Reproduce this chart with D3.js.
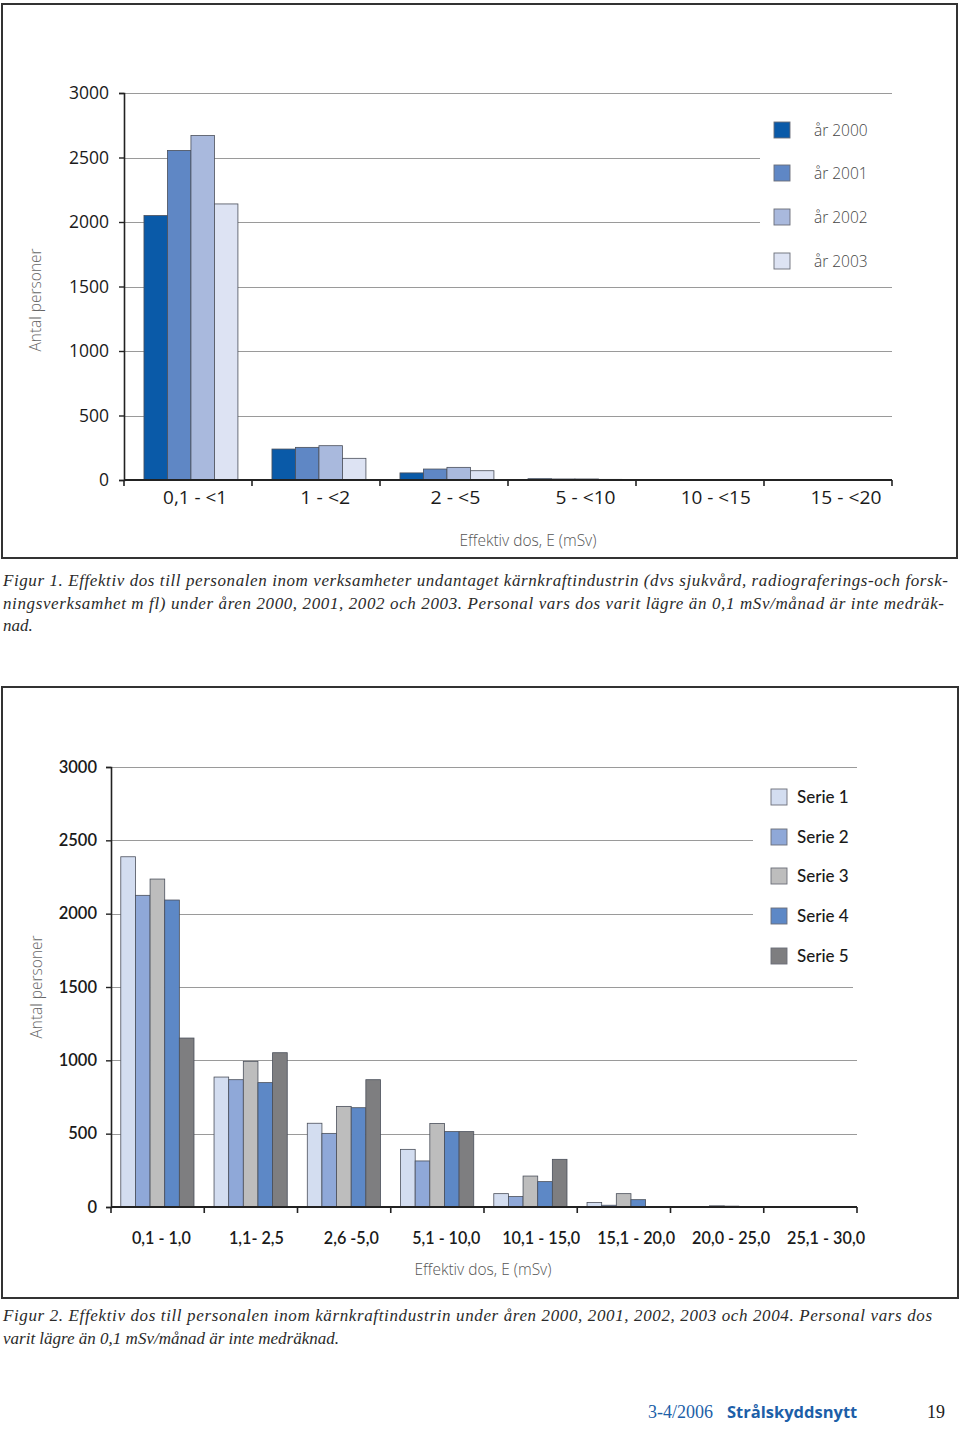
<!DOCTYPE html>
<html><head><meta charset="utf-8">
<script src="https://cdn.jsdelivr.net/npm/d3@7"></script>
<style>
body{margin:0;background:#fff;}
svg{display:block;}
</style></head>
<body>
<script>
// ---------- Data: Figure 1 ----------
const cats1 = ["0,1 - <1", "1 - <2", "2 - <5", "5 - <10", "10 - <15", "15 - <20"];
const series1 = ["år 2000", "år 2001", "år 2002", "år 2003"];
const values2000 = [2050, 240, 55, 10, 0, 0];
const values2001 = [2555, 253, 85, 8, 0, 0];
const values2002 = [2670, 266, 98, 8, 0, 0];
const values2003 = [2140, 168, 72, 5, 0, 0];
const colors1 = ["#0a5aa8", "#5f87c5", "#a9b9dd", "#dde3f3"];
const ticks1 = [0, 500, 1000, 1500, 2000, 2500, 3000];

// ---------- Data: Figure 2 ----------
const cats2 = ["0,1 - 1,0", "1,1- 2,5", "2,6 -5,0", "5,1 - 10,0", "10,1 - 15,0", "15,1 - 20,0", "20,0 - 25,0", "25,1 - 30,0"];
const series2 = ["Serie 1", "Serie 2", "Serie 3", "Serie 4", "Serie 5"];
const serie1 = [2388, 886, 571, 393, 91, 30, 0, 0];
const serie2 = [2125, 868, 502, 314, 71, 12, 0, 0];
const serie3 = [2236, 993, 686, 569, 211, 91, 8, 0];
const serie4 = [2093, 848, 677, 514, 173, 50, 6, 0];
const serie5 = [1152, 1052, 868, 514, 325, 0, 0, 0];
const colors2 = ["#d3ddf0", "#8fa8d8", "#bdbdbd", "#5d88c6", "#7e7e80"];
const ticks2 = [0, 500, 1000, 1500, 2000, 2500, 3000];

const captions1 = [
  "Figur 1. Effektiv dos till personalen inom verksamheter undantaget kärnkraftindustrin (dvs sjukvård, radiograferings-och forsk-",
  "ningsverksamhet m fl) under åren 2000, 2001, 2002 och 2003. Personal vars dos varit lägre än 0,1 mSv/månad är inte medräk-",
  "nad."
];
const captions2 = [
  "Figur 2. Effektiv dos till personalen inom kärnkraftindustrin under åren 2000, 2001, 2002, 2003 och 2004. Personal vars dos",
  "varit lägre än 0,1 mSv/månad är inte medräknad."
];

const W = 960, H = 1429;
const svg = d3.select("body").append("svg").attr("width", W).attr("height", H);
const sans = "'Open Sans', 'DejaVu Sans', sans-serif";
const serif = "'Liberation Serif', 'DejaVu Serif', serif";

function drawChart(cfg) {
  const g = svg.append("g");
  // frame
  g.append("rect").attr("x", cfg.frame[0]).attr("y", cfg.frame[1])
    .attr("width", cfg.frame[2]).attr("height", cfg.frame[3])
    .attr("fill", "#fff").attr("stroke", "#333").attr("stroke-width", 2);

  const y = d3.scaleLinear().domain([0, 3000]).range([cfg.y0, cfg.y1]);
  const x0 = d3.scaleBand().domain(cfg.cats).range([cfg.xl, cfg.xr]).padding(0);
  const bw = x0.bandwidth();
  const x1 = d3.scaleBand().domain(cfg.series).range([cfg.inPad[0] * bw, bw - cfg.inPad[1] * bw]).padding(0);
  const xl = d3.scaleBand().domain(cfg.cats).range(cfg.labelRange).padding(0);

  // gridlines
  cfg.ticks.filter(t => t > 0).forEach(t => {
    const yy = Math.round(y(t)) + 0.5;
    const end = (yy > cfg.legendBox[1] && yy < cfg.legendBox[3]) ? cfg.legendBox[0] : (cfg.gridEnd[t] || cfg.xr);
    g.append("line").attr("x1", cfg.xl).attr("x2", end).attr("y1", yy).attr("y2", yy)
      .attr("stroke", "#9a9a9a").attr("stroke-width", 1.1);
  });

  // bars
  const grp = g.selectAll("g.cat").data(cfg.cats).enter().append("g")
    .attr("transform", d => `translate(${x0(d)},0)`);
  grp.selectAll("rect").data((d, i) => cfg.series.map((s, j) => ({ s, v: cfg.vals[j][i], j })))
    .enter().append("rect")
    .attr("x", d => x1(d.s)).attr("width", x1.bandwidth())
    .attr("y", d => y(d.v)).attr("height", d => y(0) - y(d.v))
    .attr("fill", d => cfg.colors[d.j])
    .attr("stroke", d => d.v > 0 ? "#4a4f5a" : "none").attr("stroke-width", 0.8);

  // y axis
  const ya = g.append("g").attr("transform", `translate(${cfg.xl},0)`)
    .call(d3.axisLeft(y).tickValues(cfg.ticks).tickSize(5).tickPadding(cfg.yPad).tickFormat(d3.format("d")));
  ya.select(".domain").attr("stroke", "#222").attr("stroke-width", 1.6);
  ya.selectAll(".tick line").attr("stroke", "#222").attr("stroke-width", 1.4);
  ya.selectAll(".tick text").attr("font-family", cfg.tickFont).attr("font-size", cfg.tickSize)
    .attr("fill", "#1a1a1a").attr("font-weight", cfg.tickWeight);

  // x axis
  const xa = g.append("g").attr("transform", `translate(0,${cfg.y0})`);
  xa.append("line").attr("x1", cfg.xl).attr("x2", cfg.xr).attr("stroke", "#222").attr("stroke-width", 1.8);
  const bounds = cfg.cats.map(c => x0(c)).concat([cfg.xr]);
  xa.selectAll("line.tk").data(bounds).enter().append("line").attr("class", "tk")
    .attr("x1", d => d).attr("x2", d => d).attr("y1", 0).attr("y2", 6)
    .attr("stroke", "#222").attr("stroke-width", 1.6);
  const labels = g.selectAll("text.xl").data(cfg.cats).enter().append("text").attr("class", "xl")
    .attr("x", d => xl(d) + xl.bandwidth() / 2).attr("y", cfg.xLabelY)
    .attr("text-anchor", "middle").attr("font-family", cfg.tickFont).attr("font-size", cfg.xTickSize)
    .attr("font-weight", cfg.tickWeight).attr("fill", "#1a1a1a")
    .text(d => d);
  if (cfg.xLabelLen) labels.attr("textLength", (d, i) => cfg.xLabelLen[i]).attr("lengthAdjust", "spacingAndGlyphs");

  // axis titles
  g.append("text").attr("x", cfg.xTitle[0]).attr("y", cfg.xTitle[1]).attr("text-anchor", "middle")
    .attr("font-family", sans).attr("font-size", 15.5).attr("font-weight", 300).attr("fill", "#555")
    .text("Effektiv dos, E (mSv)");
  g.append("text").attr("transform", `translate(${cfg.yTitle[0]},${cfg.yTitle[1]}) rotate(-90)`)
    .attr("text-anchor", "middle").attr("font-family", sans).attr("font-size", 15.5).attr("font-weight", 300)
    .attr("fill", "#666").text("Antal personer");

  // legend
  const lg = g.append("g");
  cfg.series.forEach((s, j) => {
    const cy = cfg.legY[j];
    lg.append("rect").attr("x", cfg.legX).attr("y", cy - 8).attr("width", 16).attr("height", 16)
      .attr("fill", cfg.colors[j]).attr("stroke", "#6a6e78").attr("stroke-width", 0.9);
    lg.append("text").attr("x", cfg.legTX).attr("y", cy + 6).attr("font-family", cfg.legFont)
      .attr("font-size", cfg.legSize).attr("font-weight", cfg.legWeight).attr("fill", cfg.legColor).text(s);
  });
}

drawChart({
  frame: [2, 4, 955, 554],
  cats: cats1, series: series1,
  vals: [values2000, values2001, values2002, values2003],
  colors: colors1, ticks: ticks1,
  y0: 480, y1: 93, xl: 124, xr: 892,
  inPad: [0.156, 0.11],
  labelRange: [130, 911],
  legendBox: [760, 100, 893, 280],
  gridEnd: {},
  yPad: 10, tickFont: sans, tickSize: 17.5, xTickSize: 17.5, tickWeight: 500,
  xLabelY: 504,
  xLabelLen: [64, 50, 50, 60, 70, 71],
  xTitle: [528, 546], yTitle: [41, 300],
  legX: 774, legTX: 814, legY: [130, 173, 217, 261],
  legFont: sans, legSize: 15.5, legWeight: 300, legColor: "#444"
});

drawChart({
  frame: [2, 687, 956, 611],
  cats: cats2, series: series2,
  vals: [serie1, serie2, serie3, serie4, serie5],
  colors: colors2, ticks: ticks2,
  y0: 1207, y1: 767, xl: 111, xr: 857,
  inPad: [0.105, 0.11],
  labelRange: [114, 873.5],
  legendBox: [753, 800, 857, 970],
  gridEnd: { 1500: 853 },
  yPad: 9, tickFont: "Lato, 'Open Sans', sans-serif", tickSize: 16.5, xTickSize: 17, tickWeight: 600,
  xLabelY: 1244,
  xLabelLen: [59, 55, 55, 68, 78, 78, 78, 78],
  xTitle: [483, 1275], yTitle: [42, 987],
  legX: 771, legTX: 797, legY: [797, 837, 876, 916, 956],
  legFont: "Lato, 'Open Sans', sans-serif", legSize: 17, legWeight: 500, legColor: "#1a1a1a"
});

// captions
function caption(lines, y0, lens) {
  lines.forEach((t, i) => {
    const tx = svg.append("text").attr("x", 3).attr("y", y0 + i * 22.5)
      .attr("font-family", serif).attr("font-style", "italic").attr("font-size", 17)
      .attr("fill", "#2a2a2a").text(t);
    if (lens[i]) tx.attr("textLength", lens[i]).attr("lengthAdjust", "spacing");
  });
}
caption(captions1, 586, [945, 941, 0]);
caption(captions2, 1321, [929, 0]);

// footer
svg.append("text").attr("x", 648).attr("y", 1418).attr("font-family", serif).attr("font-size", 18)
  .attr("fill", "#1d5fa8").text("3-4/2006");
svg.append("text").attr("x", 727).attr("y", 1418).attr("font-family", sans).attr("font-size", 16.5)
  .attr("font-weight", 700).attr("fill", "#1d5fa8").text("Strålskyddsnytt");
svg.append("text").attr("x", 927).attr("y", 1418).attr("font-family", serif).attr("font-size", 18)
  .attr("fill", "#222").text("19");
</script>
</body></html>
